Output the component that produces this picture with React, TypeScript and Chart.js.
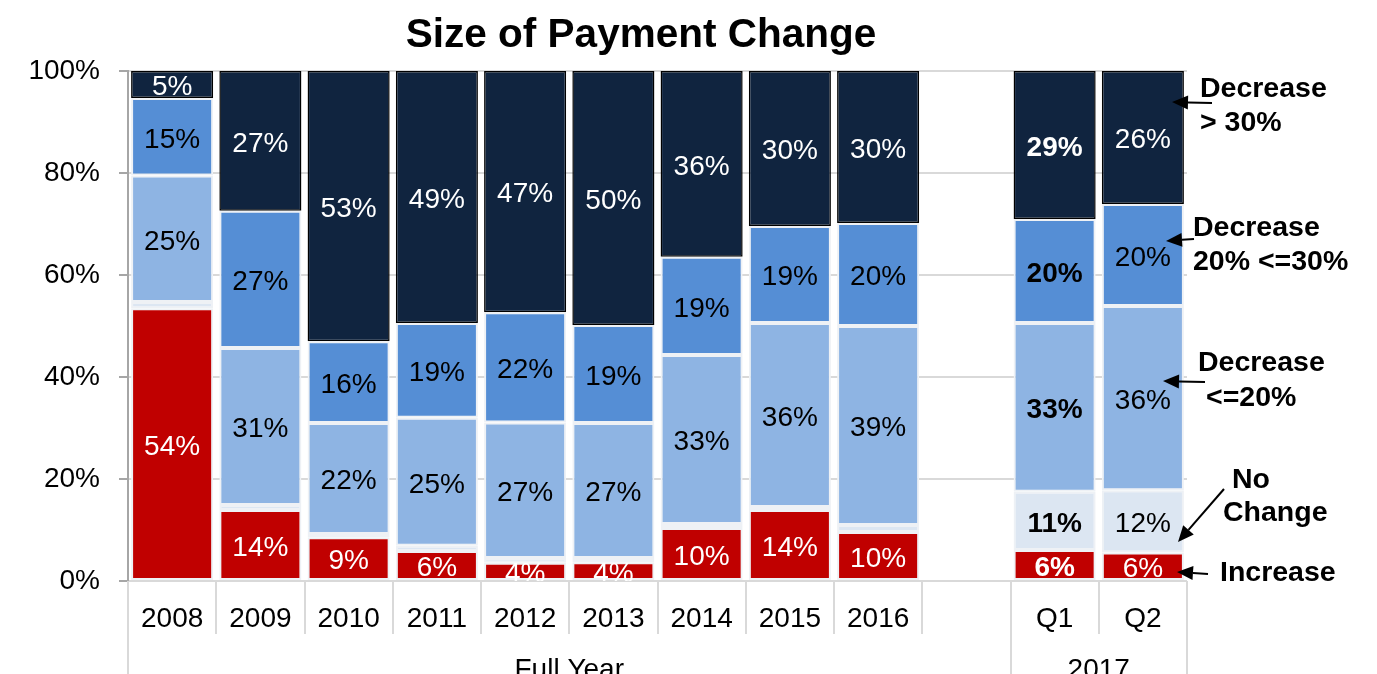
import React, { useEffect, useRef } from 'react';
import { Chart, registerables } from 'chart.js';

Chart.register(...registerables);

const FONT = '"Liberation Sans", Arial, Helvetica, sans-serif';

const categories = ['2008', '2009', '2010', '2011', '2012', '2013', '2014', '2015', '2016', '', 'Q1', 'Q2'];
const increase = [53.5, 13.9, 8.6, 5.9, 3.6, 3.7, 10.4, 13.9, 9.6, null, 6.1, 5.6];
const noChange = [1.2, 1.0, 0.6, 1.0, 0.9, 0.8, 0.8, 0.6, 1.4, null, 11.4, 12.2];
const decreaseUpTo20 = [24.8, 30.8, 21.8, 25.1, 26.6, 26.5, 33.1, 36.1, 39.0, null, 33.1, 36.1];
const decrease20To30 = [15.2, 26.9, 16.0, 18.6, 21.6, 19.2, 19.3, 19.0, 20.2, null, 20.4, 20.0];
const decreaseOver30 = [5.3, 27.4, 53.0, 49.4, 47.3, 49.8, 36.4, 30.4, 29.8, null, 29.0, 26.1];
const yTicks = [0, 20, 40, 60, 80, 100];
const boldCategories = ['Q1'];
const groupLabels = ['Full Year', '2017'];
const groupRanges = [[0, 9], [10, 11]];
const title = 'Size of Payment Change';

const seriesNames = ['Increase', 'No Change', 'Decrease <=20%', 'Decrease 20% <=30%', 'Decrease > 30%'];
const seriesColors = ['#C00000', '#DCE6F2', '#8EB4E3', '#558ED5', '#10243F'];
const labelColors = ['#FFFFFF', '#000000', '#000000', '#000000', '#FFFFFF'];

const annotations = [
  { lines: [['Decrease', 1200, 89], ['> 30%', 1200, 123]], from: [1212, 103], to: [1172, 102] },
  { lines: [['Decrease', 1193, 228], ['20% <=30%', 1193, 262]], from: [1194, 239], to: [1166, 241] },
  { lines: [['Decrease', 1198, 363], ['<=20%', 1206, 398]], from: [1205, 382], to: [1163, 381] },
  { lines: [['No', 1232, 480], ['Change', 1223, 513]], from: [1224, 489], to: [1178, 542] },
  { lines: [['Increase', 1220, 573]], from: [1208, 574], to: [1177, 572] },
];

function drawArrow(ctx: CanvasRenderingContext2D, from: number[], to: number[]) {
  const [x1, y1] = from;
  const [x2, y2] = to;
  const ang = Math.atan2(y2 - y1, x2 - x1);
  const hl = 16;
  const hw = 7;
  const bx = x2 - hl * Math.cos(ang);
  const by = y2 - hl * Math.sin(ang);
  ctx.strokeStyle = '#000';
  ctx.lineWidth = 2;
  ctx.beginPath();
  ctx.moveTo(x1, y1);
  ctx.lineTo(bx, by);
  ctx.stroke();
  ctx.fillStyle = '#000';
  ctx.beginPath();
  ctx.moveTo(x2, y2);
  ctx.lineTo(bx + hw * Math.sin(ang), by - hw * Math.cos(ang));
  ctx.lineTo(bx - hw * Math.sin(ang), by + hw * Math.cos(ang));
  ctx.closePath();
  ctx.fill();
}

const decorPlugin = {
  id: 'decor',
  afterDatasetsDraw(chart: any) {
    const ctx: CanvasRenderingContext2D = chart.ctx;
    const area = chart.chartArea;
    ctx.save();
    ctx.beginPath();
    ctx.rect(area.left, area.top, area.right - area.left, area.bottom - area.top);
    ctx.clip();
    ctx.textAlign = 'center';
    ctx.textBaseline = 'middle';
    chart.data.datasets.forEach((ds: any, di: number) => {
      const meta = chart.getDatasetMeta(di);
      meta.data.forEach((el: any, i: number) => {
        const v = ds.data[i];
        if (v == null || v < 3) return;
        const p = el.getProps(['x', 'y', 'base'], true);
        const bold = boldCategories.includes(categories[i]);
        ctx.font = `${bold ? 'bold ' : ''}28px ${FONT}`;
        ctx.fillStyle = labelColors[di];
        ctx.fillText(Math.round(v) + '%', p.x, (p.y + p.base) / 2 + 3);
      });
    });
    ctx.restore();
  },
  afterDraw(chart: any) {
    const ctx: CanvasRenderingContext2D = chart.ctx;
    const area = chart.chartArea;
    const xs = chart.scales.x;
    const n = categories.length;
    const half = (xs.getPixelForValue(1) - xs.getPixelForValue(0)) / 2;
    const boundary = (i: number) => xs.getPixelForValue(i) - half;
    const groupEdges = new Set<number>();
    groupRanges.forEach(([a, b]) => { groupEdges.add(a); groupEdges.add(b + 1); });
    ctx.save();
    ctx.strokeStyle = '#D9D9D9';
    ctx.lineWidth = 2;
    for (let i = 0; i <= n; i++) {
      const x = Math.round(boundary(i));
      ctx.beginPath();
      ctx.moveTo(x, area.bottom);
      ctx.lineTo(x, groupEdges.has(i) ? chart.height : area.bottom + 53);
      ctx.stroke();
    }
    ctx.fillStyle = '#000';
    ctx.textAlign = 'center';
    ctx.textBaseline = 'middle';
    ctx.font = `28px ${FONT}`;
    groupRanges.forEach(([a, b], gi) => {
      const cx = (boundary(a) + boundary(b + 1)) / 2;
      ctx.fillText(groupLabels[gi], cx, 670);
    });
    ctx.font = `bold 40.5px ${FONT}`;
    ctx.fillText(title, 641, 36);
    ctx.font = `bold 28.5px ${FONT}`;
    ctx.textAlign = 'left';
    annotations.forEach((a) => {
      a.lines.forEach((l: any) => ctx.fillText(l[0], l[1], l[2]));
      drawArrow(ctx, a.from, a.to);
    });
    ctx.restore();
  },
};

export default function App() {
  const ref = useRef<HTMLCanvasElement>(null);
  useEffect(() => {
    if (!ref.current) return;
    const series = [increase, noChange, decreaseUpTo20, decrease20To30, decreaseOver30];
    const chart = new Chart(ref.current, {
      type: 'bar',
      data: {
        labels: categories,
        datasets: series.map((d, i) => ({
          label: seriesNames[i],
          data: d,
          backgroundColor: seriesColors[i],
          borderColor: i === 4 ? '#000000' : '#EEF1F5',
          borderWidth: i === 4 ? 1.5 : 2,
          borderSkipped: false,
          barPercentage: 0.93,
          categoryPercentage: 1,
        })),
      },
      options: {
        responsive: false,
        animation: false,
        devicePixelRatio: 1,
        layout: { padding: { top: 71, right: 190, bottom: 0, left: 0 } },
        plugins: { legend: { display: false }, tooltip: { enabled: false }, title: { display: false } },
        scales: {
          x: {
            stacked: true,
            grid: { display: false },
            border: { display: false },
            ticks: { font: { size: 28, family: FONT }, color: '#000', padding: 13, autoSkip: false, maxRotation: 0 },
            afterFit: (s: any) => { s.height = 93; },
          },
          y: {
            stacked: true,
            min: 0,
            max: 100,
            afterBuildTicks: (s: any) => { s.ticks = yTicks.map((v) => ({ value: v })); },
            ticks: { font: { size: 28, family: FONT }, color: '#000', padding: 19, callback: (v: any) => v + '%' },
            grid: { color: '#D9D9D9', lineWidth: 2, tickLength: 9, tickColor: '#A6A6A6', tickWidth: 2 },
            border: { display: true, color: '#A6A6A6', width: 2 },
            afterFit: (s: any) => { s.width = 128; },
          },
        },
      },
      plugins: [decorPlugin],
    } as any);
    return () => chart.destroy();
  }, []);
  return (
    <div style={{ position: 'absolute', left: 0, top: 0, width: 1377, height: 674, background: '#fff' }}>
      <canvas ref={ref} width={1377} height={674} style={{ display: 'block' }} />
    </div>
  );
}
